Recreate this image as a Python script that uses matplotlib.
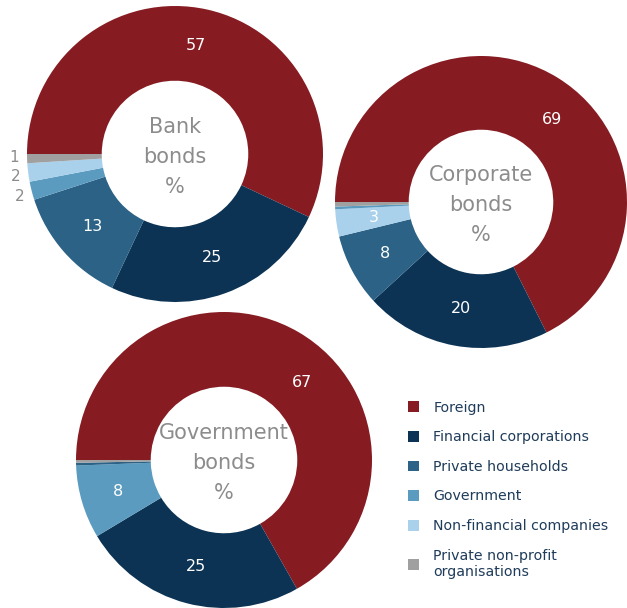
import matplotlib
matplotlib.use("Agg")
import matplotlib.pyplot as plt
from matplotlib.patches import Patch
import numpy as np

plt.rcParams['font.family'] = ['DejaVu Sans']

# categories and colours
categories = ["Foreign", "Financial corporations", "Private households",
              "Government", "Non-financial companies", "Private non-profit\norganisations"]
colours = {
    "Foreign": "#861c22",
    "Financial corporations": "#0c3354",
    "Private households": "#2b6286",
    "Government": "#5b9bbf",
    "Non-financial companies": "#a9d1ec",
    "Private non-profit\norganisations": "#a0a0a0",
}
npo = categories[5]

# slices in drawing order (clockwise from 9 o'clock)
bank_cats = ["Foreign", "Financial corporations", "Private households",
             "Government", "Non-financial companies", npo]
bank_vals = [57, 25, 13, 2, 2, 1]
bank_labels = ["57", "25", "13", "2", "2", "1"]

corp_cats = ["Foreign", "Financial corporations", "Private households",
             "Non-financial companies", "Government", npo]
corp_vals = [67.6, 20.6, 8, 3, 0.3, 0.5]
corp_labels = ["69", "20", "8", "3", "", ""]

gov_cats = ["Foreign", "Financial corporations", "Government",
            "Private households", npo]
gov_vals = [66.8, 24.6, 8, 0.3, 0.3]
gov_labels = ["67", "25", "8", "", ""]

W, H = 627, 608
fig = plt.figure(figsize=(W / 100, H / 100), dpi=100)
ax = fig.add_axes([0, 0, 1, 1])


def donut(cats, vals, labels, cx, cy, r, title, outside=(), shift=None):
    shift = shift or {}
    wedges, _ = ax.pie(vals, colors=[colours[c] for c in cats], startangle=180,
                       counterclock=False, radius=r, center=(cx, H - cy),
                       wedgeprops=dict(width=r * 0.505, linewidth=0))
    for i, (w, lab) in enumerate(zip(wedges, labels)):
        if not lab:
            continue
        ang = np.deg2rad((w.theta1 + w.theta2) / 2 + shift.get(i, 0))
        if i in outside:
            d, col, fs = r * 1.085, "#8c8c8c", 11
        else:
            d, col, fs = r * 0.745, "white", 11.5
        ax.text(cx + d * np.cos(ang), H - cy + d * np.sin(ang), lab,
                color=col, fontsize=fs, ha="center", va="center")
    # centre caption sits a little below the hole's centre
    ax.text(cx, H - cy - 3, title, color="#8c8c8c", fontsize=15,
            ha="center", va="center", linespacing=1.62)


donut(bank_cats, bank_vals, bank_labels, 175, 154, 148, "Bank\nbonds\n%",
      outside=(3, 4, 5), shift={0: 1.5, 3: 0.8, 4: 0.7, 5: -0.7})
donut(corp_cats, corp_vals, corp_labels, 481, 202, 146, "Corporate\nbonds\n%",
      shift={0: -9})
donut(gov_cats, gov_vals, gov_labels, 224, 460, 148, "Government\nbonds\n%",
      shift={0: -15})

handles = [Patch(facecolor=colours[c], edgecolor="none") for c in categories]
leg = ax.legend(handles, categories, loc="upper left", bbox_to_anchor=(395 / W, 1 - 388 / H),
                bbox_transform=fig.transFigure, frameon=False, fontsize=10.2,
                handlelength=0.8, handleheight=0.8, handletextpad=1.0,
                labelspacing=1.1, labelcolor="#1f3c5a")

ax.set_xlim(0, W)
ax.set_ylim(0, H)
ax.set_aspect("equal")
ax.axis("off")

fig.savefig("out.png", dpi=100)
